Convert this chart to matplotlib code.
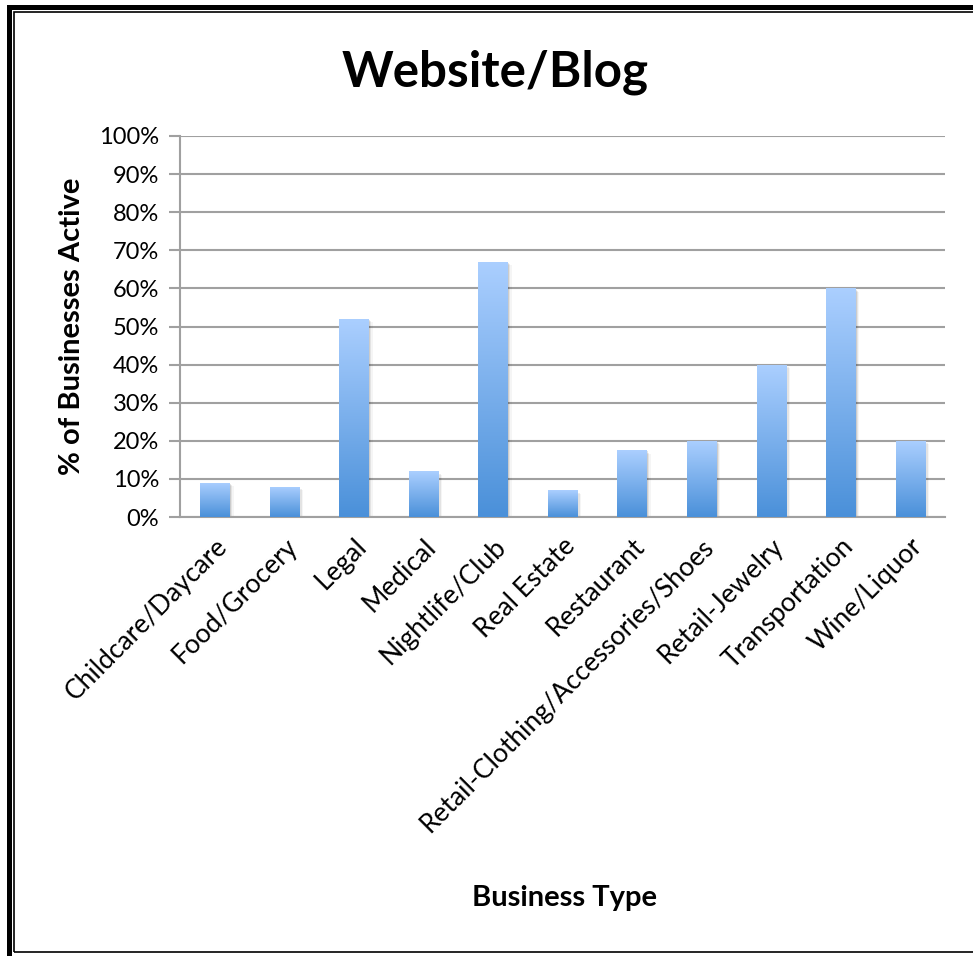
import numpy as np
import matplotlib.pyplot as plt
from matplotlib.patches import Rectangle

categories = ["Childcare/Daycare", "Food/Grocery", "Legal", "Medical", "Nightlife/Club",
              "Real Estate", "Restaurant", "Retail-Clothing/Accessories/Shoes",
              "Retail-Jewelry", "Transportation", "Wine/Liquor"]
active_pct = [9, 8, 52, 12, 67, 7, 17.5, 20, 40, 60, 20]
y_ticks = [0, 10, 20, 30, 40, 50, 60, 70, 80, 90, 100]
y_tick_labels = ["%d%%" % t for t in y_ticks]

plt.rcParams['font.family'] = ['Lato', 'DejaVu Sans']

W, H = 973, 956
fig = plt.figure(figsize=(W / 100, H / 100), dpi=100)
ax = fig.add_axes([180 / W, 1 - 517 / H, 765 / W, 381 / H])

x = np.arange(len(categories))
bars = ax.bar(x, active_pct, width=0.42, color='none', zorder=3)

# vertical gradient inside each bar, plus a soft drop shadow
grad = np.linspace(0, 1, 256).reshape(-1, 1)
cmap = plt.matplotlib.colors.LinearSegmentedColormap.from_list(
    'bar', ['#4a90d9', '#abcfff'])
for b in bars:
    x0, w, h = b.get_x(), b.get_width(), b.get_height()
    for k, a in enumerate([0.10, 0.07, 0.04]):
        ax.add_patch(Rectangle((x0 + 0.02 * (k + 1), 0), w, h - 0.3 * (k + 1),
                               color='black', alpha=a, lw=0, zorder=2))
    im = ax.imshow(grad, extent=(x0, x0 + w, 0, h), origin='lower', cmap=cmap,
                   aspect='auto', zorder=3)
    im.set_clip_path(b)

ax.set_xlim(-0.5, len(categories) - 0.5)
ax.set_ylim(0, 100)
ax.set_yticks(y_ticks)
ax.set_yticklabels(y_tick_labels, fontsize=17)
ax.set_xticks(x)
ax.set_xticklabels(categories, rotation=45, ha='right', rotation_mode='anchor',
                   fontsize=19)
ax.tick_params(axis='x', length=0, pad=12)
ax.tick_params(axis='y', length=8, width=1.5, color='#a0a0a0', pad=7)
ax.yaxis.grid(True, color='#a0a0a0', lw=1.5, zorder=1)
ax.set_axisbelow(True)
for s in ['top', 'right']:
    ax.spines[s].set_visible(False)
for s in ['left', 'bottom']:
    ax.spines[s].set_color('#a0a0a0')
    ax.spines[s].set_linewidth(1.5)

ax.set_ylabel("% of Businesses Active", fontsize=21, fontweight='bold', labelpad=10)
fig.text(565 / W, 1 - 898 / H, "Business Type", fontsize=21, fontweight='bold',
         ha='center', va='center')
fig.text(495 / W, 1 - 72 / H, "Website/Blog", fontsize=35.5, fontweight='bold',
         ha='center', va='center')

# double frame around the chart
fig.patches.append(Rectangle((9 / W, -10 / H), 990 / W, (H - 6.5 + 10) / H,
                             transform=fig.transFigure, fill=False, lw=3.6,
                             ec='black'))
fig.patches.append(Rectangle((14 / W, 1 - 952 / H), 980 / W, (952 - 12) / H,
                             transform=fig.transFigure, fill=False, lw=1.2,
                             ec='black'))

fig.savefig("out.png", dpi=100)
